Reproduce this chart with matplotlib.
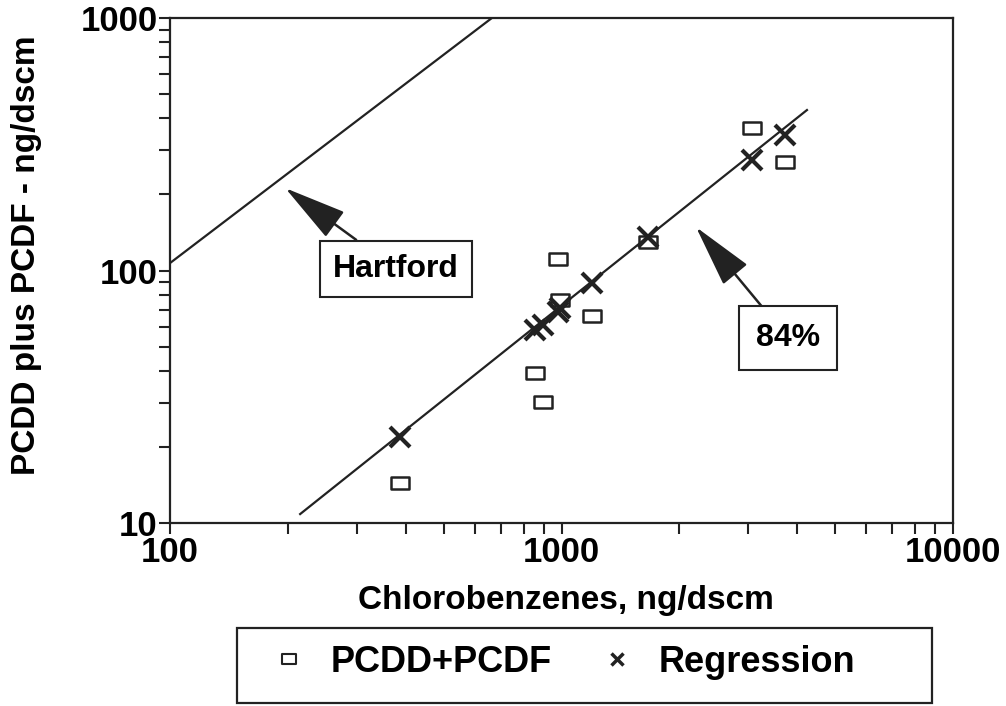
import numpy as np
import matplotlib
matplotlib.use('Agg')
import matplotlib.pyplot as plt
from matplotlib.path import Path
from matplotlib.lines import Line2D
from matplotlib.patches import Rectangle

plt.rcParams['font.family'] = ['Liberation Sans', 'DejaVu Sans']
plt.rcParams['font.weight'] = 'bold'

# Measured PCDD+PCDF vs chlorobenzenes (ng/dscm)
cb = [387, 855, 897, 980, 991, 1196, 1663, 3066, 3723]
pcdd = [14.4, 39.3, 30.1, 111, 76.4, 66, 130, 366, 269]

# Regression predictions at the same chlorobenzene values
reg_x = [387, 855, 897, 980, 991, 1196, 1663, 3066, 3723]
reg_y = [21.9, 58.1, 60.9, 68.5, 71, 89.2, 135.8, 274, 344]

# Regression line (84%) and Hartford line end points
fit_x = [215, 4236]
fit_y = [10.85, 432]
hart_x = [100, 664]
hart_y = [107, 1000]

rect = Path([(-1, -0.7), (1, -0.7), (1, 0.7), (-1, 0.7), (-1, -0.7)],
            [Path.MOVETO, Path.LINETO, Path.LINETO, Path.LINETO, Path.CLOSEPOLY])

fig = plt.figure(figsize=(10.06, 7.06), dpi=100)
ax = fig.add_axes([170/1006, 1-523/706, 783/1006, 505/706])
ax.set_xscale('log')
ax.set_yscale('log')
ax.set_xlim(100, 10000)
ax.set_ylim(10, 1000)

ax.plot(fit_x, fit_y, color='#222', lw=1.6)
ax.plot(hart_x, hart_y, color='#222', lw=1.6)
ax.plot(cb, pcdd, ls='none', marker=rect, ms=13, mfc='none', mec='#222', mew=1.8)
ax.plot(reg_x, reg_y, ls='none', marker='x', ms=14, mec='#222', mew=3)

for s in ax.spines.values():
    s.set_linewidth(1.6)
    s.set_color('#222')

ax.set_xticks([100, 1000, 10000])
ax.set_xticklabels(['100', '1000', '10000'])
ax.set_yticks([10, 100, 1000])
ax.set_yticklabels(['10', '100', '1000'])
ax.tick_params(which='both', direction='out', length=8, width=1.5, color='#222')
ax.tick_params(axis='x', which='major', labelsize=25, pad=1)
ax.tick_params(axis='y', which='major', labelsize=25, pad=1)
ax.tick_params(top=False, right=False, which='both')

arrow = dict(arrowstyle='-|>,head_length=1.8,head_width=0.45', color='#222',
             lw=1.8, mutation_scale=22, shrinkA=0, shrinkB=0)
ax.annotate('Hartford', xy=(197, 212), xytext=(378, 101.4), fontsize=23,
            ha='center', va='center', arrowprops=arrow,
            bbox=dict(boxstyle='square,pad=0.42', fc='white', ec='#222', lw=1.5))
ax.annotate('84%', xy=(2206, 148.6), xytext=(3789, 54), fontsize=23,
            ha='center', va='center', arrowprops=arrow,
            bbox=dict(boxstyle='square,pad=0.52', fc='white', ec='#222', lw=1.5))

fig.text(566/1006, 1-600/706, 'Chlorobenzenes, ng/dscm', fontsize=24,
         ha='center', va='center')
fig.text(27/1006, 1-255/706, 'PCDD plus PCDF - ng/dscm', fontsize=24,
         ha='center', va='center', rotation=90)

handles = [Line2D([], [], ls='none', marker=rect, ms=10, mfc='none', mec='#222', mew=1.5),
           Line2D([], [], ls='none', marker='x', ms=9, mec='#222', mew=2.5)]
fig.legend(handles, ['PCDD+PCDF', 'Regression'], loc='center', ncol=2,
           bbox_to_anchor=(565/1006, 1-662/706), frameon=False, fontsize=26,
           handlelength=0.8, handletextpad=0.75, columnspacing=1.4)
fig.add_artist(Rectangle((237/1006, 1-703/706), 695/1006, 75/706,
                         transform=fig.transFigure, fill=False, ec='#222', lw=1.6))

fig.savefig('out.png', dpi=100, facecolor='white')
